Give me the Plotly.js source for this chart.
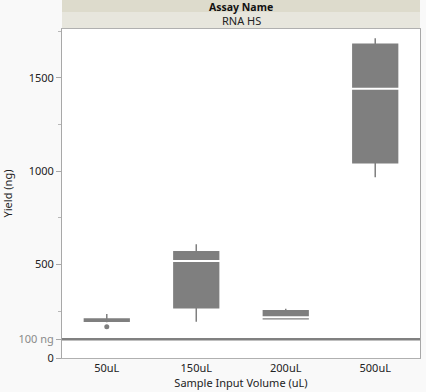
<!DOCTYPE html>
<html>
<head>
<meta charset="utf-8">
<script src="https://cdn.plot.ly/plotly-3.0.1.min.js"></script>
<style>html,body{margin:0;padding:0;background:#f9f9f9;}#chart{width:426px;height:392px;}</style>
</head>
<body>
<div id="chart"></div>
<script>
const categories = ['50uL', '150uL', '200uL', '500uL'];
const lowerWhisker = [191, 194, 210, 968];
const q1 = [197, 269, 210, 1046];
const medians = [203, 520, 218, 1442];
const q3 = [209, 569, 253, 1680];
const upperWhisker = [236, 609, 264, 1712];
const outlierX = ['50uL'];
const outlierY = [168];
const refLineValue = 100;
const yTickVals = [0, 100, 500, 1000, 1500];
const yTickText = ['0', '<span style="color:#8a8a8a">100 ng</span>', '500', '1000', '1500'];

const grey = '#7f7f7f';
const traces = [
  {
    type: 'box', x: categories, q1: q1, median: medians, q3: q3,
    lowerfence: lowerWhisker, upperfence: upperWhisker,
    fillcolor: grey, line: {color: grey, width: 1.5}, whiskerwidth: 0,
    boxpoints: false, width: 0.5, showlegend: false, hoverinfo: 'skip'
  },
  {
    type: 'scatter', mode: 'markers', x: categories, y: medians,
    marker: {symbol: 'line-ew', size: 43, color: '#ffffff', line: {color: '#ffffff', width: [0, 2, 2, 2]}},
    showlegend: false, hoverinfo: 'skip'
  },
  {
    type: 'scatter', mode: 'markers', x: outlierX, y: outlierY,
    marker: {symbol: 'circle', size: 5, color: grey},
    showlegend: false, hoverinfo: 'skip'
  }
];

const fontFam = 'Noto Sans, Open Sans, sans-serif';
const layout = {
  width: 426, height: 392,
  margin: {l: 62, r: 6, t: 29, b: 34},
  paper_bgcolor: '#f9f9f9', plot_bgcolor: '#ffffff',
  font: {family: fontFam, size: 11, color: '#222'},
  xaxis: {
    type: 'category', categoryorder: 'array', categoryarray: categories,
    showline: true, mirror: true, linecolor: '#b0b0b0', linewidth: 1,
    ticks: '', showgrid: false, zeroline: false,
    tickfont: {size: 11, color: '#222'},
    title: {text: 'Sample Input Volume (uL)', font: {size: 11, color: '#222'}, standoff: 2}
  },
  yaxis: {
    range: [0, 1762], showline: true, mirror: true, linecolor: '#a8a8a8', linewidth: 1,
    tickmode: 'array', tickvals: yTickVals, ticktext: yTickText,
    ticks: 'outside', ticklen: 5, tickcolor: '#a8a8a8',
    minor: {tickmode: 'linear', tick0: 0, dtick: 250, ticks: 'outside', ticklen: 3, tickcolor: '#b8b8b8', showgrid: false},
    showgrid: false, zeroline: false,
    tickfont: {size: 11, color: '#222'},
    title: {text: 'Yield (ng)', font: {size: 11, color: '#222'}, standoff: 14}
  },
  shapes: [
    {type: 'line', xref: 'paper', x0: 0, x1: 1, yref: 'y', y0: refLineValue, y1: refLineValue,
     line: {color: '#808080', width: 2.5}},
    {type: 'rect', xref: 'paper', yref: 'paper', x0: 0, x1: 1, y0: 1.0517, y1: 1.09,
     fillcolor: '#dddbcc', line: {width: 0}},
    {type: 'rect', xref: 'paper', yref: 'paper', x0: 0, x1: 1, y0: 1.003, y1: 1.0517,
     fillcolor: '#e7e6dd', line: {width: 0}}
  ],
  annotations: [
    {xref: 'paper', yref: 'paper', x: 0.5, y: 1.0665, text: '<b>Assay Name</b>', showarrow: false,
     font: {size: 10.5, color: '#111'}, yanchor: 'middle'},
    {xref: 'paper', yref: 'paper', x: 0.5, y: 1.027, text: 'RNA HS', showarrow: false,
     font: {size: 11, color: '#222'}, yanchor: 'middle'}
  ]
};
Plotly.newPlot('chart', traces, layout, {displayModeBar: false, staticPlot: true});
</script>
</body>
</html>
